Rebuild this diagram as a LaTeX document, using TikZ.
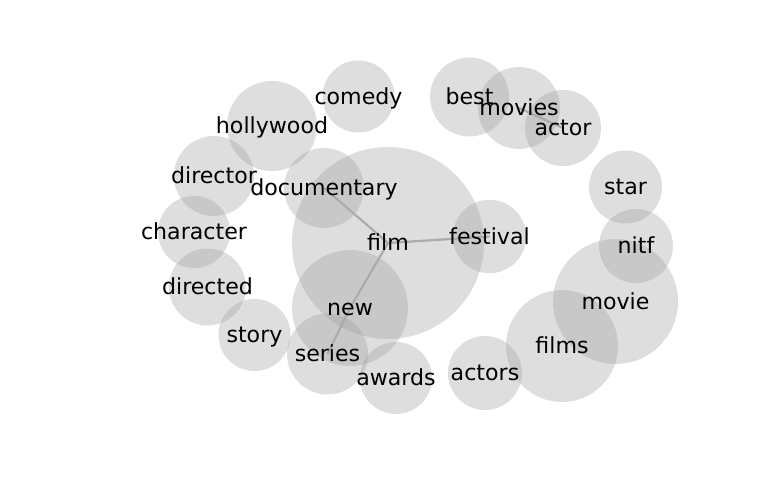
\documentclass[tikz,border=0pt]{standalone}
\usepackage{fontspec}
\setmainfont{DejaVu Sans}
\begin{document}
\begin{tikzpicture}[x=1bp,y=-1bp,
  bub/.style={circle, inner sep=0pt, draw=none, fill=black!40, fill opacity=0.32},
  lbl/.style={inner sep=0pt, font=\fontsize{22.2}{26}\selectfont, text height=0.76em, text depth=0.24em, text=black, yshift=-5bp},
  edge/.style={draw=black!33, line width=2.2bp}]
\useasboundingbox (0,0) rectangle (768,500);
\foreach \n/\x/\y/\r in {
  film/388/243/96, documentary/324/188/40, festival/489.5/236.5/36.7,
  new/350/308/58, series/327.5/354/40.5, awards/396/378/36,
  actors/485/373/37, films/562/346/56, movie/615.5/301.5/62.5,
  nitf/636/246/37, star/625.5/187/36.5, actor/563/128/38,
  movies/519/108/41, best/469.5/97/39.5, comedy/358.5/96.5/36,
  hollywood/272/126/45, director/214/176/40, character/194/232/36,
  directed/207.5/287/38.5, story/254.5/335/36}
  \node[bub, minimum size=2*\r bp] (\n) at (\x,\y) {};
\draw[edge] (film.center) -- (documentary.center);
\draw[edge] (film.center) -- (festival.center);
\draw[edge] (film.center) -- (new.center);
\draw[edge] (new.center) -- (series.center);
\draw[edge] (movies.center) -- (actor.center);
\foreach \n in {film, documentary, festival, new, series, awards, actors, films,
  movie, nitf, star, actor, movies, best, comedy, hollywood, director,
  character, directed, story}
  \node[lbl] (\n-l) at (\n.center) {\n};
\end{tikzpicture}
\end{document}
